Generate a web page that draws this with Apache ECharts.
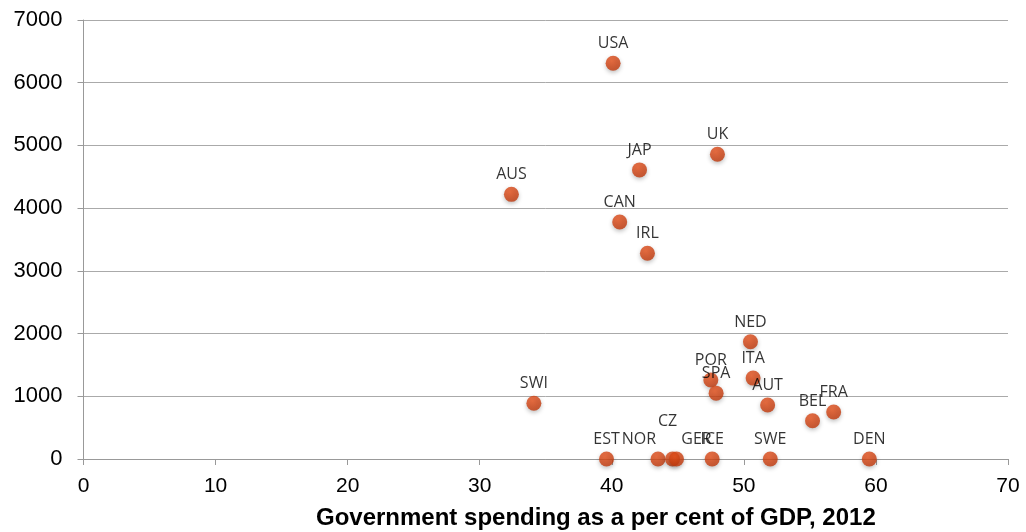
<!DOCTYPE html>
<html>
<head>
<meta charset="utf-8">
<script src="https://cdn.jsdelivr.net/npm/echarts@6/dist/echarts.min.js"></script>
<style>
html,body{margin:0;padding:0;background:#fff;}
#main{width:1026px;height:532px;}
</style>
</head>
<body>
<div id="main"></div>
<script>
var countries = ['USA','UK','JAP','AUS','CAN','IRL','NED','ITA','POR','SPA','AUT','SWI','BEL','FRA','EST','NOR','CZ','GER','ICE','SWE','DEN'];
var spending = [40.1, 48.0, 42.1, 32.4, 40.6, 42.7, 50.5, 50.7, 47.5, 47.9, 51.8, 34.1, 55.2, 56.8, 39.6, 43.5, 44.6, 44.9, 47.6, 52.0, 59.5];
var yValues = [6310, 4860, 4610, 4220, 3780, 3280, 1870, 1290, 1260, 1050, 860, 890, 610, 750, 0, 0, 0, 0, 0, 0, 0];
var xTicks = [0, 10, 20, 30, 40, 50, 60, 70];

// a few labels are nudged so they don't overlap
var labelNudge = { NOR: [-19, 0], CZ: [-5, -18], GER: [20, 0] };

window.onload = function () {
    var myChart = echarts.init(document.getElementById('main'));
    var data = [];
    for (var i = 0; i < countries.length; i++) {
        var item = { name: countries[i], value: [spending[i], yValues[i]] };
        if (labelNudge[countries[i]]) {
            item.label = { offset: labelNudge[countries[i]] };
        }
        data.push(item);
    }
    var option = {
        animation: false,
        title: {
            text: 'Government spending as a per cent of GDP, 2012',
            left: 316,
            top: 506,
            padding: 0,
            textStyle: { fontFamily: 'Liberation Sans', fontWeight: 'bold', fontSize: 24, color: '#000' }
        },
        grid: { left: 83.5, right: 18, top: 20, bottom: 73 },
        xAxis: {
            type: 'value',
            min: xTicks[0],
            max: xTicks[xTicks.length - 1],
            interval: 10,
            splitLine: { show: false },
            axisLine: { lineStyle: { color: '#999' } },
            axisTick: { length: 6, lineStyle: { color: '#999' } },
            axisLabel: { fontFamily: 'Liberation Sans', fontSize: 21, color: '#000', margin: 17 }
        },
        yAxis: {
            type: 'value',
            min: 0,
            max: 7000,
            interval: 1000,
            axisLine: { show: true, lineStyle: { color: '#999' } },
            axisTick: { show: true, length: 6, lineStyle: { color: '#999' } },
            splitLine: { lineStyle: { color: '#aaa' } },
            axisLabel: {
                fontFamily: 'Liberation Sans', fontSize: 22, color: '#000', margin: 21,
                formatter: function (v) { return String(v); }
            }
        },
        series: [{
            type: 'scatter',
            symbolSize: 15,
            data: data,
            itemStyle: {
                color: new echarts.graphic.RadialGradient(0.4, 0.35, 0.7, [
                    { offset: 0, color: '#e9521c' },
                    { offset: 1, color: '#bd360a' }
                ]),
                shadowBlur: 4,
                shadowColor: 'rgba(0,0,0,0.3)',
                shadowOffsetY: 2
            },
            label: {
                show: true,
                position: 'top',
                distance: 4,
                formatter: '{b}',
                fontFamily: 'Open Sans',
                fontSize: 16,
                color: '#000'
            },
            clip: false
        }]
    };
    myChart.setOption(option);
};
</script>
</body>
</html>
